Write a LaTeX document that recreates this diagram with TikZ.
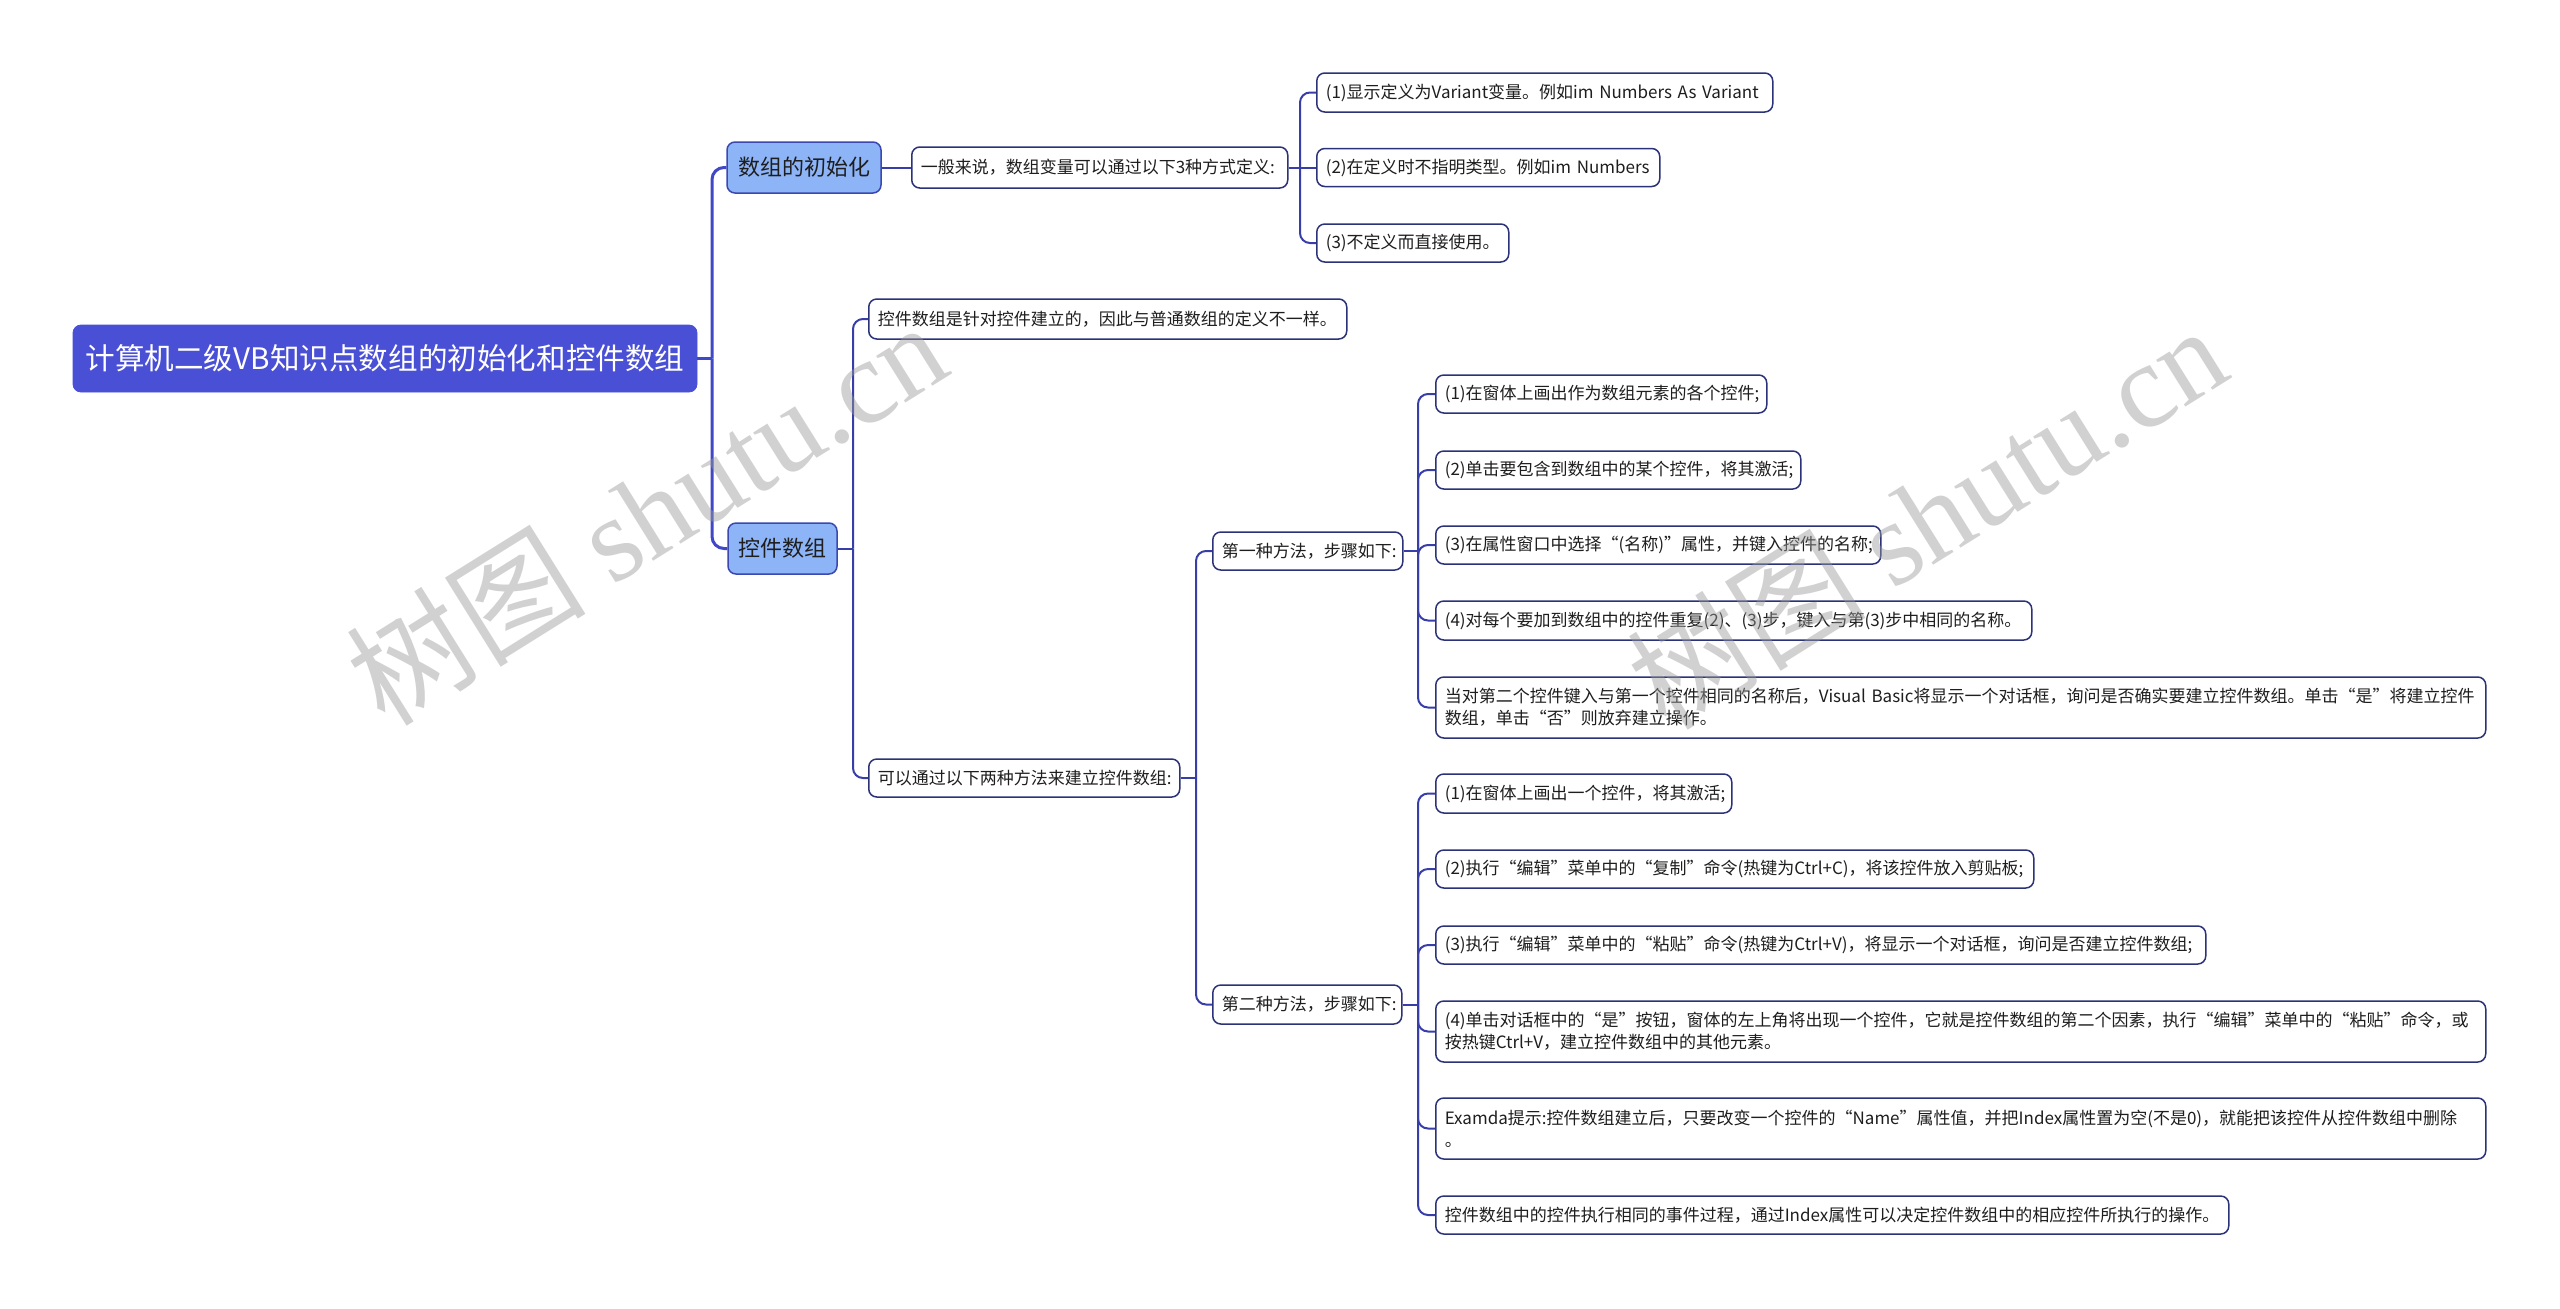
\documentclass[tikz,border=0pt]{standalone}
\usepackage{fontspec}
\setmainfont{Noto Sans CJK SC}
\newfontfamily\wmserif{Liberation Serif}
\definecolor{rootc}{RGB}{74,80,214}
\definecolor{lonec}{RGB}{141,180,247}
\definecolor{loneb}{RGB}{58,72,176}
\definecolor{leafc}{RGB}{44,50,120}
\definecolor{linea}{RGB}{64,72,200}
\definecolor{lineb}{RGB}{56,62,168}
\definecolor{textc}{RGB}{30,30,30}
\newcommand\mmleaf[6]{%
  \pgfmathsetmacro\lw{(#4-#2)/2-9}%
  \pgfmathsetmacro\lh{(#5-#3)/2}%
  \pgfmathsetmacro\ly{(#3+#5)/2}%
  \node[leafbox, text width=\lw pt, minimum height=\lh pt] (#1) at (#2,\ly) {#6};}
\begin{document}
\begin{tikzpicture}[x=0.5pt,y=-0.5pt,
  leafbox/.style={draw=leafc, line width=0.75pt, rounded corners=4pt, fill=white, anchor=west,
    inner xsep=4.5pt, inner ysep=0pt, align=left, font=\fontsize{8.5}{11}\selectfont, text=textc},
  rootbox/.style={fill=rootc, draw=rootc, rounded corners=4pt, inner sep=0pt, text=white,
    font=\fontsize{14.8}{17}\selectfont},
  lonebox/.style={fill=lonec, draw=loneb, line width=0.75pt, rounded corners=4pt, inner sep=0pt,
    text=textc, font=\fontsize{11}{13}\selectfont},
  lka/.style={draw=linea, line width=1.5pt, rounded corners=6pt},
  lkb/.style={draw=lineb, line width=1pt, rounded corners=5pt},
  wm/.style={text=black!40, text opacity=0.45, font=\fontsize{60}{64}\selectfont, inner sep=0pt}]
\useasboundingbox[fill=white] (0,0) rectangle (2560,1308);

% root and level 1
\node[rootbox, minimum width=312pt, minimum height=33.5pt] (root) at (385,358.5) {计算机二级VB知识点数组的初始化和控件数组};
\node[lonebox, minimum width=77pt, minimum height=25.5pt] (l1a) at (804,167.5) {数组的初始化};
\node[lonebox, minimum width=54.5pt, minimum height=25.5pt] (l1b) at (782.5,548.5) {控件数组};

% level 2+
\mmleaf{gen}{911}{147}{1287}{188}{一般来说，数组变量可以通过以下3种方式定义:}
\mmleaf{a1}{1316}{73}{1772}{112}{(1)显示定义为Variant变量。例如im Numbers As Variant}
\mmleaf{a2}{1316}{148.5}{1659}{186.5}{(2)在定义时不指明类型。例如im Numbers}
\mmleaf{a3}{1316}{224}{1508}{262}{(3)不定义而直接使用。}
\mmleaf{b1}{868}{299}{1346}{339}{控件数组是针对控件建立的，因此与普通数组的定义不一样。}
\mmleaf{b2}{868}{759}{1179}{797}{可以通过以下两种方法来建立控件数组:}
\mmleaf{m1}{1212}{532}{1402}{570}{第一种方法，步骤如下:}
\mmleaf{m2}{1212}{985}{1401}{1024}{第二种方法，步骤如下:}
\mmleaf{c1}{1435}{375}{1766}{413}{(1)在窗体上画出作为数组元素的各个控件;}
\mmleaf{c2}{1435}{451}{1800}{489}{(2)单击要包含到数组中的某个控件，将其激活;}
\mmleaf{c3}{1435}{526}{1880}{564}{(3)在属性窗口中选择“(名称)”属性，并键入控件的名称;}
\mmleaf{c4}{1435}{601}{2031}{640}{(4)对每个要加到数组中的控件重复(2)、(3)步，键入与第(3)步中相同的名称。}
\mmleaf{c5}{1435}{677}{2485}{738}{当对第二个控件键入与第一个控件相同的名称后，Visual Basic将显示一个对话框，询问是否确实要建立控件数组。单击“是”将建立控件\\数组，单击“否”则放弃建立操作。}
\mmleaf{d1}{1435}{774}{1731}{813}{(1)在窗体上画出一个控件，将其激活;}
\mmleaf{d2}{1435}{850}{2033}{888}{(2)执行“编辑”菜单中的“复制”命令(热键为Ctrl+C)，将该控件放入剪贴板;}
\mmleaf{d3}{1435}{926}{2205}{964}{(3)执行“编辑”菜单中的“粘贴”命令(热键为Ctrl+V)，将显示一个对话框，询问是否建立控件数组;}
\mmleaf{d4}{1435}{1001}{2485}{1062}{(4)单击对话框中的“是”按钮，窗体的左上角将出现一个控件，它就是控件数组的第二个因素，执行“编辑”菜单中的“粘贴”命令，或\\按热键Ctrl+V，建立控件数组中的其他元素。}
\mmleaf{d5}{1435}{1098}{2485}{1159}{Examda提示:控件数组建立后，只要改变一个控件的“Name”属性值，并把Index属性置为空(不是0)，就能把该控件从控件数组中删除\\。}
\mmleaf{d6}{1435}{1196}{2228}{1234}{控件数组中的控件执行相同的事件过程，通过Index属性可以决定控件数组中的相应控件所执行的操作。}

% junctions
\coordinate (J0) at (712,358.5);
\coordinate (J1) at (1300,167.5);
\coordinate (J2) at (853,548.5);
\coordinate (J3) at (1196,778);
\coordinate (J4) at (1418,551);
\coordinate (J5) at (1418,1004.5);

% connectors
\draw[lka] (root.east) -- (J0);
\draw[lka] (J0) |- (l1a.west);
\draw[lka] (J0) |- (l1b.west);

\draw[lkb] (l1a.east) -- (gen.west);
\draw[lkb] (gen.east) -- (J1);
\draw[lkb] (J1) |- (a1.west);
\draw[lkb] (J1) -- (a2.west);
\draw[lkb] (J1) |- (a3.west);

\draw[lkb] (l1b.east) -- (J2);
\draw[lkb] (J2) |- (b1.west);
\draw[lkb] (J2) |- (b2.west);

\draw[lkb] (b2.east) -- (J3);
\draw[lkb] (J3) |- (m1.west);
\draw[lkb] (J3) |- (m2.west);

\draw[lkb] (m1.east) -- (J4);
\foreach \c in {c1,c2,c3,c4,c5} { \draw[lkb] (J4) |- (\c.west); }
\draw[lkb] (m2.east) -- (J5);
\foreach \c in {d1,d2,d3,d4,d5,d6} { \draw[lkb] (J5) |- (\c.west); }

% watermarks
\node[wm, rotate=32] (wm1) at (646,512) {树图 {\wmserif shutu.cn}};
\node[wm, rotate=32] (wm2) at (1926,516) {树图 {\wmserif shutu.cn}};
\end{tikzpicture}
\end{document}
